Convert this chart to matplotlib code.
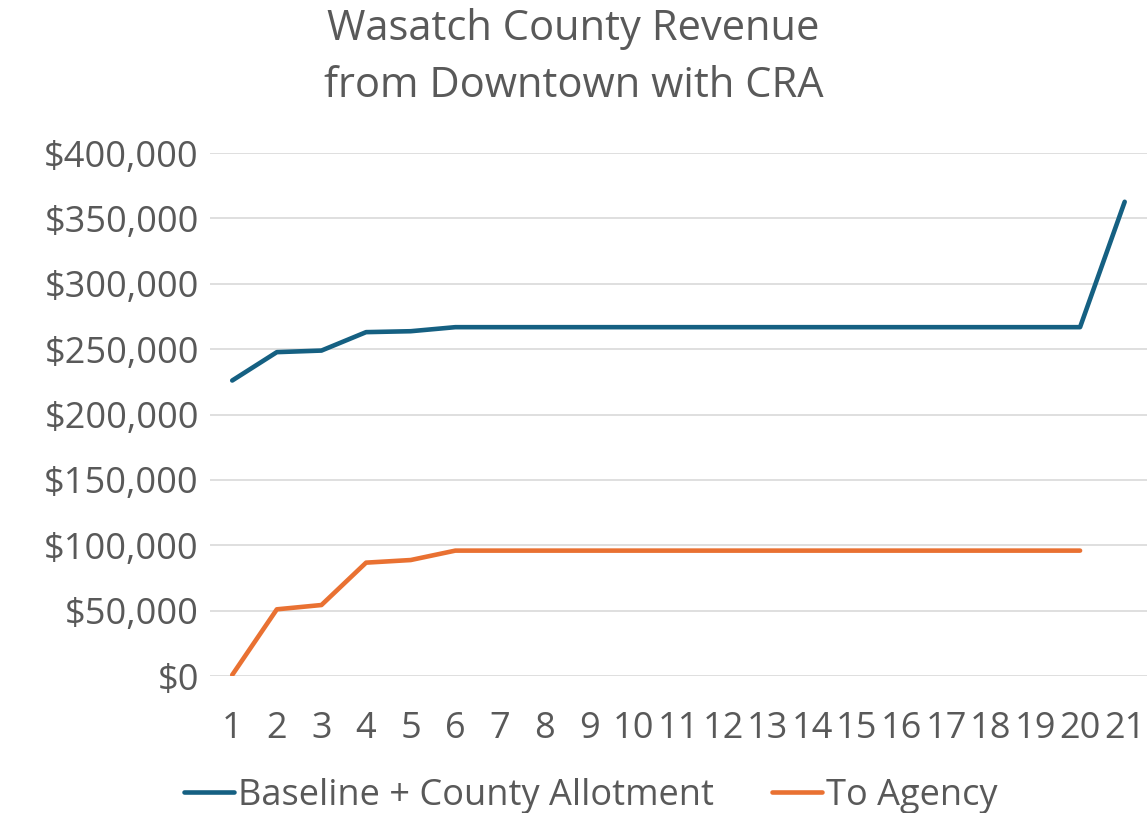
import matplotlib.pyplot as plt
from matplotlib.ticker import FuncFormatter

plt.rcParams['font.family'] = ['Open Sans', 'DejaVu Sans']

years = list(range(1, 22))
baseline = [226000, 247700, 248900, 263000, 263700] + [266800] * 15 + [362700]
agency = [800, 51000, 54300, 86700, 88700] + [95900] * 15
text_col = '#595959'

fig = plt.figure(figsize=(11.47, 8.13), dpi=100)
ax = fig.add_axes([0.183, 0.1685, 0.817, 0.6433])

ax.plot(years, baseline, color='#156082', lw=3.3, solid_capstyle='round',
        solid_joinstyle='round', label='Baseline + County Allotment')
ax.plot(years[:20], agency, color='#E97132', lw=3.3, solid_capstyle='round',
        solid_joinstyle='round', label='To Agency')

ax.set_xlim(0.5, 21.5)
ax.set_ylim(0, 400000)
ax.set_yticks(range(0, 400001, 50000))
ax.yaxis.set_major_formatter(FuncFormatter(lambda v, p: '${:,.0f}'.format(v)))
ax.set_xticks(years)
ax.grid(axis='y', color='#D9D9D9', lw=1.2)
ax.set_axisbelow(True)
for s in ax.spines.values():
    s.set_visible(False)
ax.tick_params(length=0, labelsize=26, colors=text_col)
ax.tick_params(axis='x', pad=25)
ax.tick_params(axis='y', pad=8)

fig.suptitle('Wasatch County Revenue\nfrom Downtown with CRA', y=0.99,
             fontsize=30, color=text_col, linespacing=1.45)
fig.legend(loc='center', bbox_to_anchor=(0.515, 0.021), ncol=2,
           frameon=False, fontsize=26, labelcolor=text_col,
           handlelength=1.4, handletextpad=0.1, columnspacing=1.6)

plt.savefig('out.png', dpi=100)
